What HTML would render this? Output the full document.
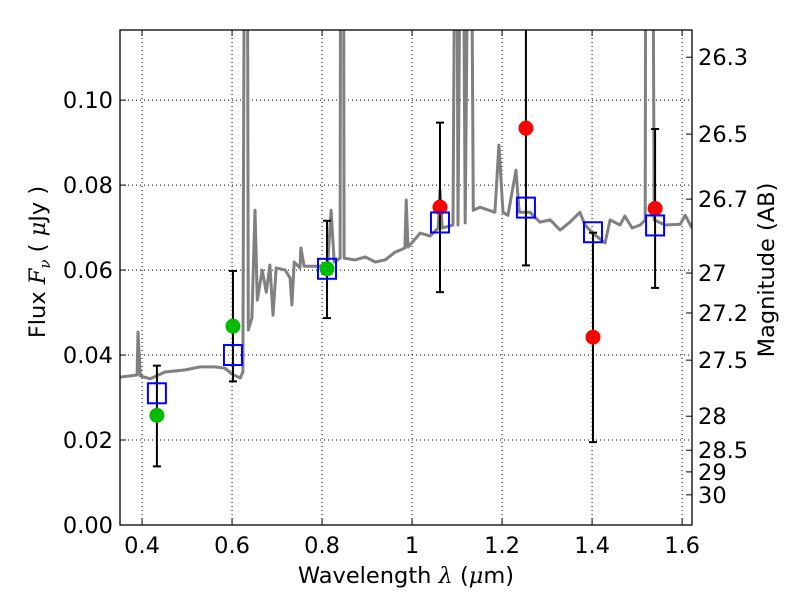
<!DOCTYPE html>
<html><head><meta charset="utf-8"><style>
html,body{margin:0;padding:0;background:#fff;}
svg text{font-family:"DejaVu Sans","Liberation Sans",sans-serif;font-size:22.5px;fill:#000;}
</style></head><body>
<svg id="chart" width="800" height="600" xmlns="http://www.w3.org/2000/svg">
<g id="grid"></g>
<g id="spec"></g>
<g id="marks"></g>
<rect x="120" y="30" width="572" height="495" fill="none" stroke="#000" stroke-width="1.3"/>
<g id="axes"></g>
<text x="406" y="583" text-anchor="middle">Wavelength  <tspan font-style="italic" font-family="DejaVu Serif,serif">λ</tspan> (<tspan font-style="italic" font-family="DejaVu Serif,serif">μ</tspan>m)</text>
<text transform="translate(45,262) rotate(-90)" text-anchor="middle">Flux  <tspan font-style="italic" font-family="DejaVu Serif,serif">F</tspan><tspan font-style="italic" font-family="DejaVu Serif,serif" font-size="15" dy="5">ν</tspan><tspan dy="-5">  (  </tspan><tspan font-style="italic" font-family="DejaVu Serif,serif">μ</tspan>Jy )</text>
<text transform="translate(774,270) rotate(-90)" text-anchor="middle">Magnitude (AB)</text>
</svg>
<script>
const specWave=[0.351,0.389,0.391,0.396,0.418,0.451,0.496,0.529,0.562,0.584,0.600,0.618,0.624,0.629,0.633,0.636,0.644,0.651,0.656,0.667,0.676,0.684,0.691,0.698,0.718,0.729,0.733,0.738,0.751,0.753,0.760,0.796,0.813,0.820,0.827,0.840,0.842,0.847,0.849,0.873,0.896,0.918,0.940,0.962,0.984,0.987,0.991,1.018,1.040,1.058,1.062,1.067,1.091,1.098,1.102,1.111,1.118,1.129,1.136,1.151,1.184,1.193,1.202,1.213,1.231,1.238,1.262,1.284,1.307,1.329,1.351,1.373,1.384,1.407,1.429,1.440,1.462,1.473,1.489,1.507,1.518,1.520,1.533,1.538,1.562,1.596,1.607,1.622];
const specFlux=[0.0348,0.0353,0.0454,0.0351,0.0344,0.0360,0.0365,0.0372,0.0372,0.0369,0.0355,0.0346,0.0360,0.2,0.2,0.0459,0.0487,0.0741,0.0529,0.0600,0.0548,0.0612,0.0494,0.0605,0.0600,0.0581,0.0518,0.0619,0.0605,0.0652,0.0609,0.0609,0.0619,0.0741,0.0619,0.0628,0.2,0.2,0.0628,0.0624,0.0631,0.0619,0.0624,0.0642,0.0652,0.0765,0.0654,0.0687,0.0680,0.0699,0.0788,0.0699,0.0706,0.2,0.0706,0.2,0.0711,0.2,0.0741,0.0748,0.0736,0.0894,0.0736,0.0729,0.0835,0.0736,0.0736,0.0713,0.0718,0.0694,0.0713,0.0736,0.0706,0.0682,0.0664,0.0718,0.0706,0.0727,0.0699,0.0706,0.0718,0.2,0.2,0.0718,0.0706,0.0708,0.0729,0.0699];
const greenWave=[0.433,0.602,0.811];
const greenFlux=[0.0258,0.0468,0.0603];
const greenLo=[0.0138,0.0338,0.0487];
const greenHi=[0.0375,0.0598,0.0716];
const redWave=[1.062,1.253,1.402,1.540];
const redFlux=[0.0748,0.0934,0.0442,0.0745];
const redLo=[0.0548,0.0611,0.0195,0.0558];
const redHi=[0.0947,0.125,0.0688,0.0932];
const modelWave=[0.433,0.602,0.811,1.062,1.253,1.402,1.540];
const modelFlux=[0.0310,0.0400,0.0603,0.0712,0.0747,0.0689,0.0705];
const xTicks=[0.4,0.6,0.8,1.0,1.2,1.4,1.6];
const xTickLabels=["0.4","0.6","0.8","1","1.2","1.4","1.6"];
const yTicks=[0,0.02,0.04,0.06,0.08,0.10];
const yTickLabels=["0.00","0.02","0.04","0.06","0.08","0.10"];
const magTickLabels=["26.3","26.5","26.7","27","27.2","27.5","28","28.5","29","30"];
const magTickFlux=[0.1101,0.0920,0.0767,0.0593,0.0499,0.0388,0.0256,0.0176,0.0125,0.0071];

const NS="http://www.w3.org/2000/svg";
const X0=120,X1=692,Y0=525,Y1=30,XMIN=0.351,XMAX=1.622,YMIN=0,YMAX=0.1165;
function sx(v){return X0+(v-XMIN)/(XMAX-XMIN)*(X1-X0);}
function sy(v){return Y0-(v-YMIN)/(YMAX-YMIN)*(Y0-Y1);}
function mk(tag,attrs,parent){const e=document.createElementNS(NS,tag);for(const k in attrs)e.setAttribute(k,attrs[k]);parent.appendChild(e);return e;}
const grid=document.getElementById('grid'),axes=document.getElementById('axes'),spec=document.getElementById('spec'),marks=document.getElementById('marks');
const defs=mk('defs',{},document.getElementById('chart'));
const cp=mk('clipPath',{id:'clip'},defs);mk('rect',{x:X0,y:Y1,width:X1-X0,height:Y0-Y1},cp);
spec.setAttribute('clip-path','url(#clip)');marks.setAttribute('clip-path','url(#clip)');
xTicks.forEach((t,i)=>{const x=sx(t);
 const g=mk('line',{x1:x,x2:x,y1:Y1,y2:Y0,stroke:'#000','stroke-width':1,'stroke-dasharray':'1,3'},grid);
 
 const t1=mk('line',{x1:x,x2:x,y1:Y0,y2:Y0-6,stroke:'#000'},axes);
 
 mk('line',{x1:x,x2:x,y1:Y1,y2:Y1+6,stroke:'#000'},axes);
 const l=mk('text',{x:x,y:Y0+28,'text-anchor':'middle'},axes);l.textContent=xTickLabels[i];
 });
yTicks.forEach((t,i)=>{const y=sy(t);
 const g=mk('line',{x1:X0,x2:X1,y1:y,y2:y,stroke:'#000','stroke-width':1,'stroke-dasharray':'1,3'},grid);
 
 mk('line',{x1:X0,x2:X0+6,y1:y,y2:y,stroke:'#000'},axes);
 const l=mk('text',{x:X0-7,y:y+8,'text-anchor':'end'},axes);l.textContent=yTickLabels[i];
 });
magTickFlux.forEach((f,i)=>{const y=sy(f);
 mk('line',{x1:X1-6,x2:X1,y1:y,y2:y,stroke:'#000'},axes);
 const l=mk('text',{x:X1+6,y:y+8},axes);l.textContent=magTickLabels[i];
 });
const pts=specWave.map((w,i)=>sx(w).toFixed(1)+','+sy(specFlux[i]).toFixed(1)).join(' ');
const pl=mk('polyline',{points:pts,fill:'none',stroke:'#808080','stroke-width':3,'stroke-linejoin':'round'},spec);

function errbar(w,lo,hi){const x=sx(w);
 const e=mk('g',{stroke:'#000','stroke-width':2},marks);
 
 mk('line',{x1:x,x2:x,y1:sy(lo),y2:sy(hi)},e);
 mk('line',{x1:x-4,x2:x+4,y1:sy(lo),y2:sy(lo)},e);
 mk('line',{x1:x-4,x2:x+4,y1:sy(hi),y2:sy(hi)},e);}
greenWave.forEach((w,i)=>errbar(w,greenLo[i],greenHi[i]));
redWave.forEach((w,i)=>errbar(w,redLo[i],redHi[i]));
greenWave.forEach((w,i)=>{const c=mk('circle',{cx:sx(w),cy:sy(greenFlux[i]),r:7.5,fill:'#00bb00'},marks);
 });
redWave.forEach((w,i)=>{const c=mk('circle',{cx:sx(w),cy:sy(redFlux[i]),r:7.5,fill:'#ff0000'},marks);
 });
modelWave.forEach((w,i)=>{const r=mk('rect',{x:sx(w)-9,y:sy(modelFlux[i])-10,width:18,height:20,fill:'none',stroke:'#0000ff','stroke-width':2},marks);
 });
</script>
</body></html>
